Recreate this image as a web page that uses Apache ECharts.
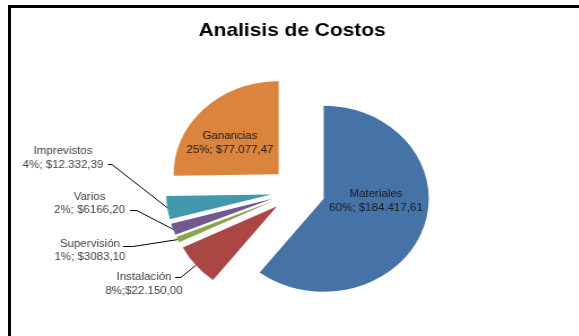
<!DOCTYPE html>
<html><head><meta charset="utf-8">
<script src="https://cdn.jsdelivr.net/npm/echarts@6/dist/echarts.min.js"></script>
<style>
html,body{margin:0;padding:0;background:#fff;overflow:hidden;width:579px;height:336px;}
#frame{position:absolute;left:8px;top:5px;width:640px;height:400px;border-left:3px solid #000;border-top:3px solid #000;}
#chart{position:absolute;left:0;top:0;width:513px;height:336px;transform:scaleX(1.13);transform-origin:0 0;}
</style></head><body>
<div id="frame"></div>
<div id="chart"></div>
<script>
// ---- data ----
const categories = ['Materiales', 'Instalación', 'Supervisión', 'Varios', 'Imprevistos', 'Ganancias'];
const values = [184417.61, 22150.00, 3083.10, 6166.20, 12332.39, 77077.47];
const percentLabels = ['60%', '8%', '1%', '2%', '4%', '25%'];
const valueLabels = ['$184.417,61', '$22.150,00', '$3083,10', '$6166,20', '$12.332,39', '$77.077,47'];
const separators = ['; ', ';', '; ', '; ', '; ', '; '];
const insideLabel = [true, false, false, false, false, true];

// ---- styles / layout ----
const colors = ['#4572A7', '#AA4643', '#89A54E', '#71588F', '#4198AF', '#DB843D'];
const baseCenter = [263.7, 191];
const pieRadius = 93;
const explode = 24;
const labelCenters = [[332.7, 201], [127.4, 284], [79.6, 250.5], [79.2, 203.5], [55.8, 158], [203.5, 143]];
const lineJoints = [null, [[160, 277.5], [155, 277.5]], [[117.7, 246.5], [108.8, 246.5]], [[121, 210.5], [115, 210.5]], [[99, 164.5], [95.5, 164.5]], null];

// explode direction of each slice follows its own bisector angle (from the data)
const total = values.reduce(function (a, b) { return a + b; }, 0);
let cum = 0;
const centers = values.map(function (v) {
  const mid = (cum + v / 2) / total * 2 * Math.PI;
  cum += v;
  return [baseCenter[0] + explode * Math.sin(mid), baseCenter[1] - explode * Math.cos(mid)];
});

function labelText(i) {
  return categories[i] + '\n' + percentLabels[i] + separators[i] + valueLabels[i];
}

const series = categories.map(function (name, k) {
  return {
    type: 'pie',
    name: name,
    center: centers[k],
    radius: pieRadius,
    startAngle: 90,
    clockwise: true,
    avoidLabelOverlap: false,
    silent: true,
    emphasis: {disabled: true},
    label: {
      show: true,
      position: insideLabel[k] ? 'inside' : 'outside',
      fontFamily: 'Liberation Sans',
      fontSize: 10.2,
      lineHeight: 13.5,
      color: insideLabel[k] ? '#1a1a1a' : '#404040',
      formatter: function (p) { return labelText(p.dataIndex); }
    },
    labelLine: {show: !insideLabel[k], length: 10, length2: 10, lineStyle: {color: '#000', width: 1}},
    labelLayout: function (params) {
      const i = params.dataIndex;
      if (i !== k) return {};
      const res = {x: labelCenters[i][0], y: labelCenters[i][1], align: 'center', verticalAlign: 'middle'};
      if (lineJoints[i] && params.labelLinePoints) {
        res.labelLinePoints = [params.labelLinePoints[0], lineJoints[i][0], lineJoints[i][1]];
      }
      return res;
    },
    data: categories.map(function (n, i) {
      if (i === k) {
        return {name: n, value: values[i], itemStyle: {color: colors[i]}};
      }
      return {name: n, value: values[i], itemStyle: {color: 'rgba(0,0,0,0)'},
        label: {show: false}, labelLine: {show: false}};
    })
  };
});

const chart = echarts.init(document.getElementById('chart'), null, {renderer: 'canvas'});
chart.setOption({
  animation: false,
  title: {
    text: 'Analisis de Costos', left: 253.5, textAlign: 'center', top: 16,
    textStyle: {fontFamily: 'Liberation Sans', fontWeight: 'bold', fontSize: 18.5, color: '#000'}
  },
  series: series
});
</script>
</body></html>
